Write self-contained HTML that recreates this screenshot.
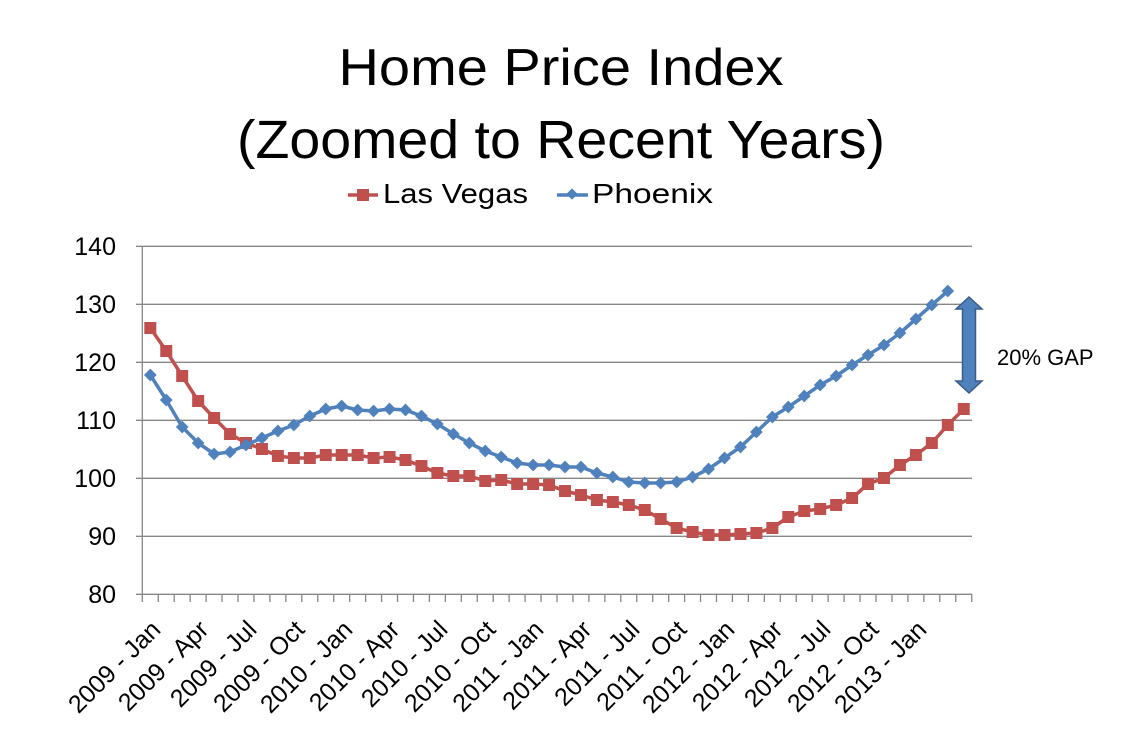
<!DOCTYPE html>
<html><head><meta charset="utf-8"><style>
html,body{margin:0;padding:0;background:#fff;}
svg{display:block;font-family:"Liberation Sans",sans-serif;}
</style></head><body>
<svg id="s" width="1122" height="736" viewBox="0 0 1122 736" xmlns="http://www.w3.org/2000/svg">
<rect width="1122" height="736" fill="#fff"/>
<text x="561" y="85" font-size="52" text-anchor="middle" textLength="445" lengthAdjust="spacingAndGlyphs">Home Price Index</text>
<text x="561" y="158" font-size="54" text-anchor="middle" textLength="648" lengthAdjust="spacingAndGlyphs">(Zoomed to Recent Years)</text>
<line x1="348" y1="195" x2="378" y2="195" stroke="#c0504d" stroke-width="3.5"/>
<rect x="357" y="189" width="12" height="12" fill="#c0504d"/>
<text x="383" y="203" font-size="28" textLength="145" lengthAdjust="spacingAndGlyphs">Las Vegas</text>
<line x1="557" y1="195" x2="588" y2="195" stroke="#4f81bd" stroke-width="3.5"/>
<rect x="568" y="190" width="8" height="8" fill="#4f81bd" transform="rotate(45 572 194)"/>
<text x="592" y="203" font-size="28" textLength="121" lengthAdjust="spacingAndGlyphs">Phoenix</text>
<g stroke="#868686" stroke-width="1.3">
<line x1="136" y1="246.3" x2="972" y2="246.3"/>
<line x1="136" y1="304.3" x2="972" y2="304.3"/>
<line x1="136" y1="362.3" x2="972" y2="362.3"/>
<line x1="136" y1="420.3" x2="972" y2="420.3"/>
<line x1="136" y1="478.3" x2="972" y2="478.3"/>
<line x1="136" y1="536.3" x2="972" y2="536.3"/>
<line x1="136" y1="594.3" x2="972" y2="594.3"/>
<line x1="142.3" y1="246.3" x2="142.3" y2="594.3"/>
</g>
<g id="ticks" stroke="#868686" stroke-width="1.3"></g>
<g font-size="25" text-anchor="end" fill="#000">
<text x="116" y="255">140</text>
<text x="116" y="313">130</text>
<text x="116" y="371">120</text>
<text x="116" y="429">110</text>
<text x="116" y="487">100</text>
<text x="116" y="545">90</text>
<text x="116" y="603">80</text>
</g>
<g font-size="25" text-anchor="end" fill="#000">
<text transform="translate(162,631) rotate(-45)">2009 - Jan</text>
<text transform="translate(210,631) rotate(-45)">2009 - Apr</text>
<text transform="translate(258,631) rotate(-45)">2009 - Jul</text>
<text transform="translate(306,631) rotate(-45)">2009 - Oct</text>
<text transform="translate(354,631) rotate(-45)">2010 - Jan</text>
<text transform="translate(401,631) rotate(-45)">2010 - Apr</text>
<text transform="translate(449,631) rotate(-45)">2010 - Jul</text>
<text transform="translate(497,631) rotate(-45)">2010 - Oct</text>
<text transform="translate(545,631) rotate(-45)">2011 - Jan</text>
<text transform="translate(593,631) rotate(-45)">2011 - Apr</text>
<text transform="translate(641,631) rotate(-45)">2011 - Jul</text>
<text transform="translate(688,631) rotate(-45)">2011 - Oct</text>
<text transform="translate(736,631) rotate(-45)">2012 - Jan</text>
<text transform="translate(784,631) rotate(-45)">2012 - Apr</text>
<text transform="translate(832,631) rotate(-45)">2012 - Jul</text>
<text transform="translate(880,631) rotate(-45)">2012 - Oct</text>
<text transform="translate(928,631) rotate(-45)">2013 - Jan</text>
</g>
<g id="series"></g>
<path d="M969,297 L982,309 L975.5,309 L975.5,381 L982,381 L969,393 L956,381 L962.5,381 L962.5,309 L956,309 Z" fill="#4f81bd" stroke="#385d8a" stroke-width="1.5"/>
<text x="997" y="365" font-size="22">20% GAP</text>
<script>
(function(){
var NS="http://www.w3.org/2000/svg";
var lv=[328,351,376,401,418,434,443,449,456,458,458,455,455,455,458,457,460,466,473,476,476,481,480,484,484,485,491,495,500,502,505,510,519,528,532,535,535,534,533,528,517,511,509,505,498,484,478,465,455,443,425,409];
var ph=[375,400,427,443,454,452,445,438,431,425,416,409,406,410,411,409,410,416,424,434,443,451,457,463,465,465,467,467,473,477,482,483,483,482,477,469,458,447,432,417,407,396,385,376,365,355,345,333,319,305,291];
function X(i){return 150.3+15.95*i;}
var t=document.getElementById('ticks');
for(var k=0;k<=52;k++){var l=document.createElementNS(NS,'line');var x=142.3+15.95*k;l.setAttribute('x1',x);l.setAttribute('x2',x);l.setAttribute('y1',594);l.setAttribute('y2',602);t.appendChild(l);}
var g=document.getElementById('series');
function draw(d,c,sq){
 var p=d.map(function(y,i){return X(i).toFixed(1)+','+y;}).join(' ');
 var pl=document.createElementNS(NS,'polyline');pl.setAttribute('points',p);pl.setAttribute('fill','none');pl.setAttribute('stroke',c);pl.setAttribute('stroke-width','3.5');pl.setAttribute('stroke-linejoin','round');g.appendChild(pl);
 d.forEach(function(y,i){var r=document.createElementNS(NS,'rect');var x=X(i);
  if(sq){r.setAttribute('x',x-6);r.setAttribute('y',y-6);r.setAttribute('width',12);r.setAttribute('height',12);}
  else{r.setAttribute('x',x-4.5);r.setAttribute('y',y-4.5);r.setAttribute('width',9);r.setAttribute('height',9);r.setAttribute('transform','rotate(45 '+x+' '+y+')');}
  r.setAttribute('fill',c);g.appendChild(r);});
}
draw(lv,'#c0504d',true);
draw(ph,'#4f81bd',false);
})();
</script>
</svg>
</body></html>
